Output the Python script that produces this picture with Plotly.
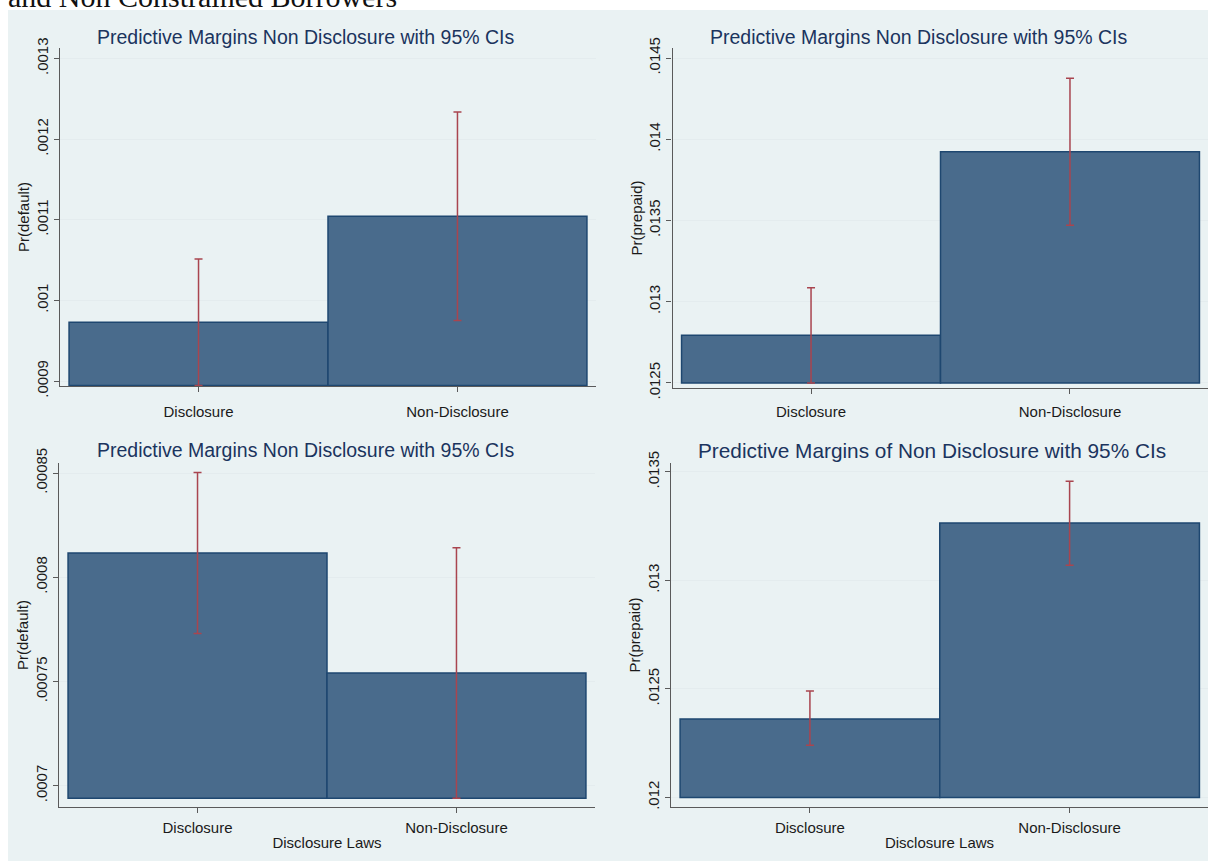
import plotly.graph_objects as go

# ---------------- data ----------------
categories = ["Disclosure", "Non-Disclosure"]
panel_titles = [
    "Predictive Margins Non Disclosure with 95% CIs",
    "Predictive Margins Non Disclosure with 95% CIs",
    "Predictive Margins Non Disclosure with 95% CIs",
    "Predictive Margins of Non Disclosure with 95% CIs",
]
y_titles = ["Pr(default)", "Pr(prepaid)", "Pr(default)", "Pr(prepaid)"]
x_title = "Disclosure Laws"
header_text = "and Non Constrained Borrowers"

# top-left: Pr(default)
tl_margin = [0.000973, 0.0011044]
tl_lower = [0.0008945, 0.0009751]
tl_upper = [0.0010515, 0.0012337]
tl_ticks = [0.0009, 0.0010, 0.0011, 0.0012, 0.0013]
tl_ticktext = [".0009", ".001", ".0011", ".0012", ".0013"]

# top-right: Pr(prepaid)
tr_margin = [0.012793, 0.013923]
tr_lower = [0.012500, 0.013471]
tr_upper = [0.013086, 0.014376]
tr_ticks = [0.0125, 0.0130, 0.0135, 0.0140, 0.0145]
tr_ticktext = [".0125", ".013", ".0135", ".014", ".0145"]

# bottom-left: Pr(default)
bl_margin = [0.0008116, 0.0007541]
bl_lower = [0.0007730, 0.0006940]
bl_upper = [0.0008502, 0.0008142]
bl_ticks = [0.0007, 0.00075, 0.0008, 0.00085]
bl_ticktext = [".0007", ".00075", ".0008", ".00085"]

# bottom-right: Pr(prepaid)
br_margin = [0.012362, 0.013264]
br_lower = [0.012240, 0.013070]
br_upper = [0.012491, 0.013457]
br_ticks = [0.0120, 0.0125, 0.0130, 0.0135]
br_ticktext = [".012", ".0125", ".013", ".0135"]

# ---------------- geometry (window pixels) ----------------
W, H = 1208, 861


def fx(px):
    return px / W


def fy(py):
    return 1 - py / H


panels = [
    dict(m=tl_margin, lo=tl_lower, hi=tl_upper, tv=tl_ticks, tt=tl_ticktext,
         px=(60, 596, 48, 386), xr=(-0.535, 1.535), yr=(0.000894, 0.001313),
         tx=305, ty=37.5, tsize=19.5, xt=False, xstand=7),
    dict(m=tr_margin, lo=tr_lower, hi=tr_upper, tv=tr_ticks, tt=tr_ticktext,
         px=(672.5, 1208, 48, 388), xr=(-0.535, 1.533), yr=(0.012469, 0.014562),
         tx=918, ty=37.5, tsize=19.5, xt=False, xstand=5),
    dict(m=bl_margin, lo=bl_lower, hi=bl_upper, tv=bl_ticks, tt=bl_ticktext,
         px=(59, 595, 463, 807), xr=(-0.535, 1.535), yr=(0.0006898, 0.0008548),
         tx=305, ty=450, tsize=19.5, xt=True, xstand=2),
    dict(m=br_margin, lo=br_lower, hi=br_upper, tv=br_ticks, tt=br_ticktext,
         px=(671, 1208, 463, 807), xr=(-0.535, 1.533), yr=(0.011956, 0.013541),
         tx=931.5, ty=450, tsize=20.8, xt=True, xstand=2),
]

BAR_FILL = "#496B8C"
BAR_LINE = "#1E4770"
CI_COLOR = "#A9454F"
BG = "#EAF2F3"
GRID = "#E4ECEE"
AXIS = "#5a5a5a"
TITLE_COLOR = "#1B345E"
TXT = "#1a1a1a"
FONT = "Liberation Sans, Arial, sans-serif"

fig = go.Figure()
layout = dict(
    width=W, height=H,
    margin=dict(l=0, r=0, t=0, b=0, autoexpand=False),
    paper_bgcolor="white",
    plot_bgcolor="white",
    showlegend=False,
    font=dict(family=FONT, color=TXT),
    title=dict(text=header_text, x=fx(8), xref="container", xanchor="left",
               y=fy(7), yref="container", yanchor="bottom",
               pad=dict(l=0, r=0, t=0, b=0),
               font=dict(size=30, family="Liberation Serif, Times New Roman, serif",
                         color="#111")),
    shapes=[dict(type="rect", xref="paper", yref="paper",
                 x0=fx(8), x1=1, y0=0, y1=fy(10),
                 fillcolor=BG, line=dict(width=0), layer="below")],
    annotations=[],
)

for i, p in enumerate(panels):
    k = "" if i == 0 else str(i + 1)
    xa, ya = "x" + k, "y" + k
    base = min(min(p["lo"]), p["tv"][0])
    fig.add_trace(go.Bar(
        x=[0, 1], y=[v - base for v in p["m"]], base=base, width=1,
        marker=dict(color=BAR_FILL, line=dict(color=BAR_LINE, width=1.5)),
        xaxis=xa, yaxis=ya, hoverinfo="skip"))
    fig.add_trace(go.Scatter(
        x=[0, 1], y=p["m"], mode="markers",
        marker=dict(size=1, color="rgba(0,0,0,0)"),
        error_y=dict(type="data", symmetric=False,
                     array=[h - m for h, m in zip(p["hi"], p["m"])],
                     arrayminus=[m - l for m, l in zip(p["m"], p["lo"])],
                     color=CI_COLOR, thickness=1.5, width=4),
        xaxis=xa, yaxis=ya, hoverinfo="skip"))
    l, r, t, b = p["px"]
    layout["xaxis" + k] = dict(
        domain=[fx(l), min(fx(r), 1)], anchor=ya, range=list(p["xr"]),
        tickmode="array", tickvals=[0, 1], ticktext=categories,
        showline=True, linecolor=AXIS, linewidth=1.2,
        ticks="outside", ticklen=5, tickcolor=AXIS, ticklabelstandoff=p["xstand"],
        showgrid=False, zeroline=False, automargin=False,
        tickfont=dict(size=15, family=FONT, color=TXT),
        title=dict(text=x_title if p["xt"] else "",
                   font=dict(size=15, family=FONT, color=TXT), standoff=2),
    )
    layout["yaxis" + k] = dict(
        domain=[fy(b), fy(t)], anchor=xa, range=list(p["yr"]),
        tickmode="array", tickvals=p["tv"], ticktext=p["tt"], tickangle=-90,
        showline=True, linecolor=AXIS, linewidth=1.2,
        ticks="outside", ticklen=5, tickcolor=AXIS,
        showgrid=True, gridcolor=GRID, gridwidth=1, zeroline=False,
        automargin=False,
        tickfont=dict(size=15, family=FONT, color=TXT),
        title=dict(text=y_titles[i], font=dict(size=15, family=FONT, color=TXT),
                   standoff=0),
    )
    layout["annotations"].append(dict(
        text=panel_titles[i], xref="paper", yref="paper",
        x=fx(p["tx"]), y=fy(p["ty"]), xanchor="center", yanchor="middle",
        showarrow=False, font=dict(size=p["tsize"], family=FONT, color=TITLE_COLOR)))

fig.update_layout(**layout)
# place the figure at the window's top-left corner (no default page margin)
fig.write_html("out.html", config={"displayModeBar": False},
               post_script="document.body.style.margin='0px';")
